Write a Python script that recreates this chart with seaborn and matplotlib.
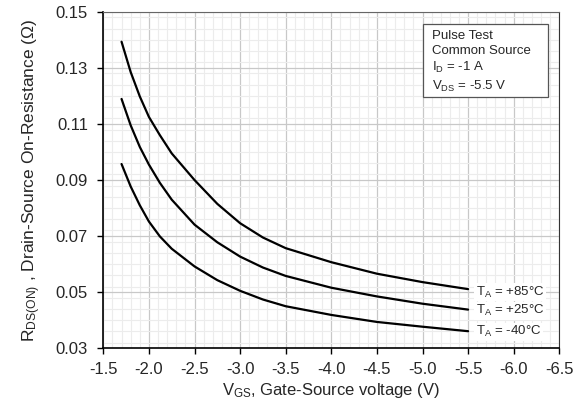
"""RDS(on) vs VGS curves at three ambient temperatures."""

import matplotlib
matplotlib.use("Agg")
import matplotlib.pyplot as plt
from matplotlib.patches import Rectangle
from matplotlib.ticker import MultipleLocator, FormatStrFormatter
import seaborn as sns
import pandas as pd

# Gate-source voltage points (V)
vgs = [-1.7, -1.8, -1.9, -2.0, -2.12, -2.25, -2.5, -2.75, -3.0, -3.25, -3.5, -4.0, -4.5, -5.0, -5.5]

# Drain-source on-resistance (ohm)
rds_85 = [0.1393, 0.1285, 0.1198, 0.1125, 0.1060, 0.0995, 0.0900, 0.0815, 0.0746, 0.0695, 0.0657, 0.0607, 0.0566, 0.0536, 0.0511]
rds_25 = [0.1189, 0.1095, 0.1018, 0.0955, 0.0890, 0.0830, 0.0741, 0.0678, 0.0627, 0.0588, 0.0558, 0.0516, 0.0485, 0.0459, 0.0438]
rds_m40 = [0.0957, 0.0877, 0.0810, 0.0752, 0.0699, 0.0655, 0.0592, 0.0543, 0.0505, 0.0474, 0.0450, 0.0419, 0.0394, 0.0377, 0.0361]

temps = ["+85", "+25", "-40"]

df = pd.DataFrame({
    "vgs": vgs * 3,
    "rds": rds_85 + rds_25 + rds_m40,
    "temp": [t for t in temps for _ in vgs],
})

sns.set_style("white")
plt.rcParams["font.family"] = ["Liberation Sans", "DejaVu Sans"]
plt.rcParams["axes.unicode_minus"] = False
plt.rcParams["mathtext.fontset"] = "custom"
plt.rcParams["mathtext.rm"] = "Liberation Sans"
plt.rcParams["mathtext.it"] = "Liberation Sans"

fig = plt.figure(figsize=(5.82, 4.08), dpi=100)
ax = fig.add_axes([0.1775, 0.1463, 0.7835, 0.825])

sns.lineplot(data=df, x="vgs", y="rds", hue="temp", palette=["black"] * 3,
             linewidth=1.6, legend=False, ax=ax)

ax.set_xlim(-1.5, -6.5)
ax.set_ylim(0.03, 0.15)
ax.xaxis.set_major_locator(MultipleLocator(0.5))
ax.xaxis.set_minor_locator(MultipleLocator(0.1))
ax.yaxis.set_minor_locator(MultipleLocator(0.004))
ax.set_yticks([0.03, 0.05, 0.07, 0.09, 0.11, 0.13, 0.15])
ax.xaxis.set_major_formatter(FormatStrFormatter("%.1f"))
ax.yaxis.set_major_formatter(FormatStrFormatter("%.2f"))

ax.grid(which="major", color="#c8c8c8", linewidth=0.9)
ax.grid(which="minor", color="#ececec", linewidth=0.8)
ax.set_axisbelow(True)

ax.tick_params(which="major", direction="out", length=4, width=1, labelsize=12,
               left=True, bottom=True, color="black")
ax.tick_params(axis="y", pad=7)
ax.tick_params(axis="x", pad=5.5)
ax.tick_params(which="minor", length=0)

for side in ["left", "bottom"]:
    ax.spines[side].set_color("black")
    ax.spines[side].set_linewidth(1.2)
ax.spines["top"].set_color("#666666")
ax.spines["right"].set_color("#333333")

ax.set_xlabel(r"V$_{\mathregular{GS}}$, Gate-Source voltage (V)", fontsize=12, labelpad=3)
ax.set_ylabel(r"R$_{\mathregular{DS(ON)}}$ , Drain-Source On-Resistance (Ω)", fontsize=12.5, labelpad=9)

# Curve labels
label_y = [0.0499, 0.0434, 0.0359]
for t, y in zip(temps, label_y):
    ax.text(-5.585, y, rf"T$_{{\mathregular{{A}}}}$ = {t}°C", fontsize=9.5, va="center", ha="left",
            bbox=dict(facecolor="white", edgecolor="none", pad=1))

# Test-condition box (frame in axes coordinates)
ax.add_patch(Rectangle((0.702, 0.746), 0.274, 0.2178, transform=ax.transAxes,
                       facecolor="white", edgecolor="#555555", linewidth=0.9, zorder=3))
ax.text(0.7202, 0.945,
        "Pulse Test\nCommon Source\n" + r"I$_{\mathregular{D}}$ = -1 A" + "\n" + r"V$_{\mathregular{DS}}$ = -5.5 V",
        transform=ax.transAxes, fontsize=9.5, va="top", ha="left", linespacing=1.3, zorder=4)

plt.savefig("out.png", dpi=100)
plt.close()
